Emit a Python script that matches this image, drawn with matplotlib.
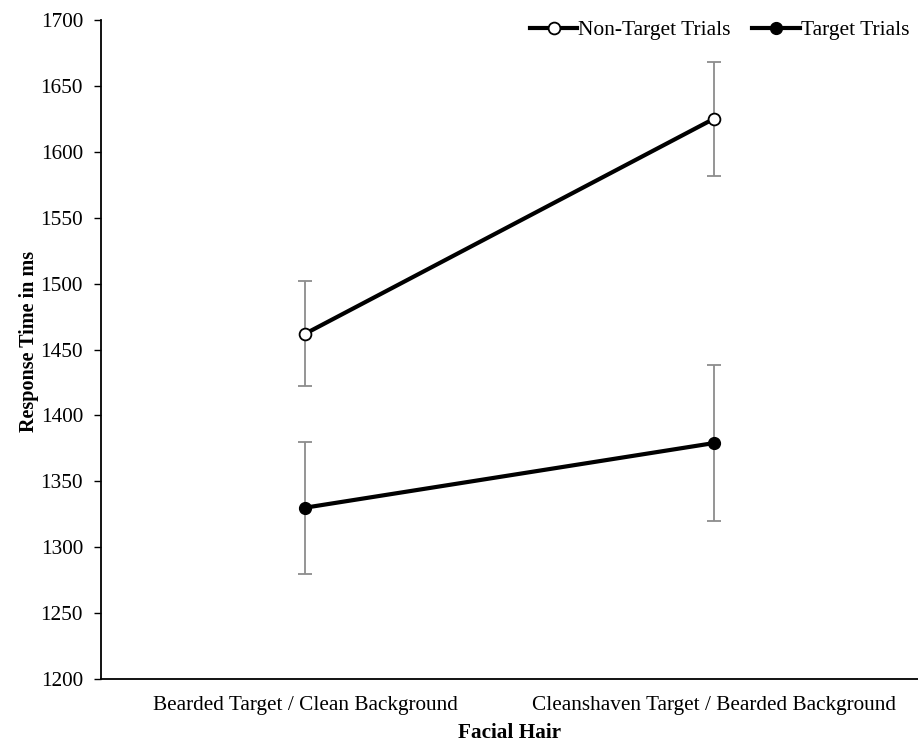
import matplotlib.pyplot as plt
import numpy as np

plt.rcParams['font.family'] = ['Liberation Serif', 'DejaVu Serif']

# data
categories = ["Bearded Target / Clean Background", "Cleanshaven Target / Bearded Background"]
non_target_rt = [1462, 1625]
non_target_err = [40, 43]
target_rt = [1330, 1379]
target_err = [50, 59]
y_ticks = np.arange(1200, 1701, 50)

fig = plt.figure(figsize=(9.18, 7.43), dpi=100)
ax = fig.add_axes([0.110, 0.0861, 0.890, 0.8870])

x = np.arange(len(categories))

# error bars first, so the lines sit on top
for vals, errs in [(non_target_rt, non_target_err), (target_rt, target_err)]:
    ax.errorbar(x, vals, yerr=errs, fmt="none", ecolor="#8c8c8c",
                elinewidth=1.3, capsize=5, capthick=1.3, zorder=2)

ax.plot(x, non_target_rt, "-o", color="black", linewidth=3,
        markersize=8.5, markerfacecolor="white", markeredgecolor="black",
        markeredgewidth=1.3, label="Non-Target Trials", zorder=3)
ax.plot(x, target_rt, "-o", color="black", linewidth=3,
        markersize=8.5, markerfacecolor="black", markeredgecolor="black",
        label="Target Trials", zorder=3)

ax.set_xlim(-0.5, 1.5)
ax.set_ylim(1200, 1700)
ax.set_yticks(y_ticks)
ax.set_xticks(x)
ax.set_xticklabels(categories, fontsize=15.3)
ax.tick_params(axis="y", labelsize=15.3, direction="out", length=5, width=1, pad=8)
ax.tick_params(axis="x", length=0, pad=12)

for side in ["top", "right"]:
    ax.spines[side].set_visible(False)
for side in ["left", "bottom"]:
    ax.spines[side].set_linewidth(1.3)

ax.set_ylabel("Response Time in ms", fontsize=14.5, fontweight="bold")
ax.yaxis.set_label_coords(-0.076, 0.512)
ax.set_xlabel("Facial Hair", fontsize=15.3, fontweight="bold")
ax.xaxis.set_label_coords(0.5, -0.066)

ax.legend(loc="upper right", bbox_to_anchor=(1.0, 1.013), ncol=2, frameon=False,
          fontsize=15.5, handlelength=2.2, handletextpad=0.05, columnspacing=1.0,
          borderaxespad=0)

fig.savefig("out.png", dpi=100)
